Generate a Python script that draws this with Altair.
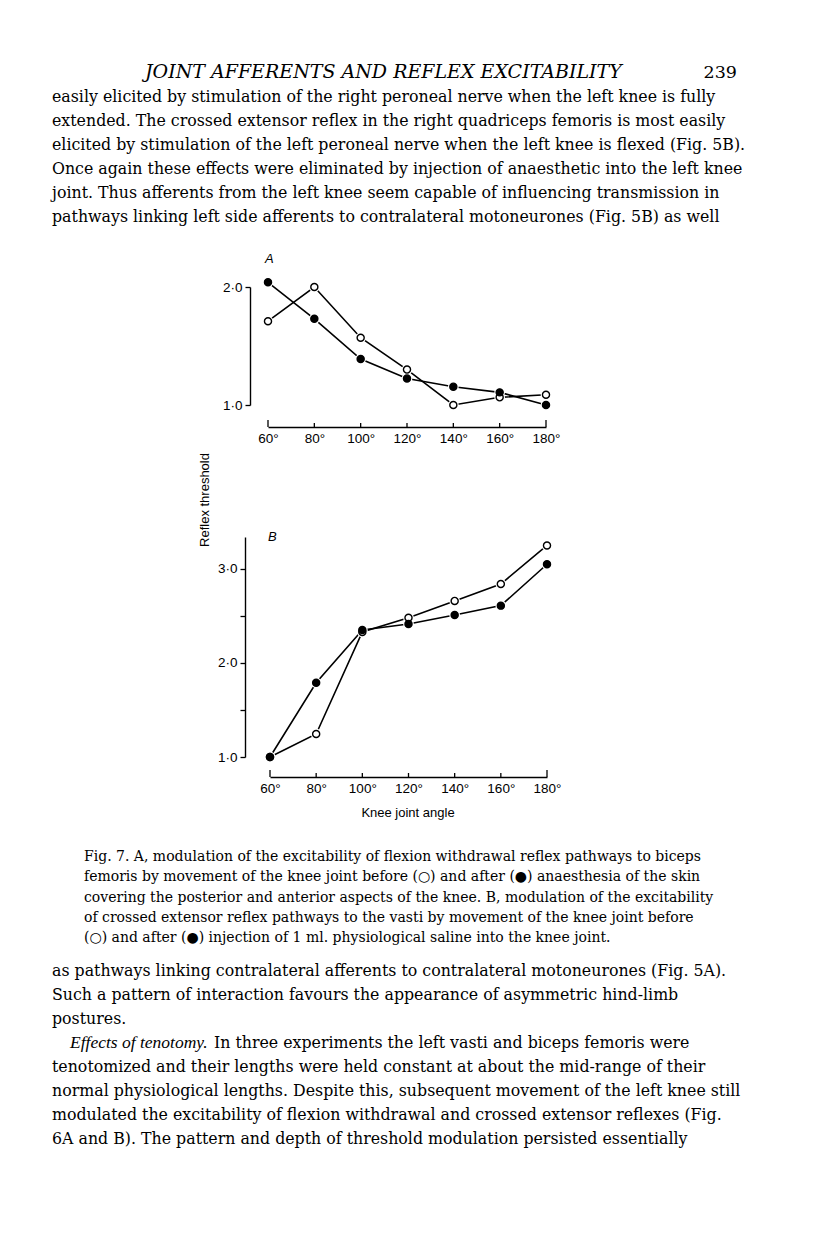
import altair as alt
import pandas as pd

# ---------------- data ----------------
angles = [60, 80, 100, 120, 140, 160, 180]
a_before = [1.71, 2.0, 1.57, 1.30, 1.0, 1.065, 1.087]
a_after = [2.04, 1.73, 1.39, 1.225, 1.155, 1.107, 1.0]
b_before = [1.0, 1.245, 2.33, 2.48, 2.66, 2.84, 3.25]
b_after = [1.0, 1.79, 2.35, 2.415, 2.51, 2.61, 3.05]
a_yticks = [1.0, 2.0]
b_yticks = [1.0, 1.5, 2.0, 2.5, 3.0]

header_title = "JOINT AFFERENTS AND REFLEX EXCITABILITY"
page_number = "239"
body_top = [
    "easily elicited by stimulation of the right peroneal nerve when the left knee is fully",
    "extended. The crossed extensor reflex in the right quadriceps femoris is most easily",
    "elicited by stimulation of the left peroneal nerve when the left knee is flexed (Fig. 5B).",
    "Once again these effects were eliminated by injection of anaesthetic into the left knee",
    "joint. Thus afferents from the left knee seem capable of influencing transmission in",
    "pathways linking left side afferents to contralateral motoneurones (Fig. 5B) as well",
]
caption = [
    "Fig. 7. A, modulation of the excitability of flexion withdrawal reflex pathways to biceps",
    "femoris by movement of the knee joint before (\u25cb) and after (\u25cf) anaesthesia of the skin",
    "covering the posterior and anterior aspects of the knee. B, modulation of the excitability",
    "of crossed extensor reflex pathways to the vasti by movement of the knee joint before",
    "(\u25cb) and after (\u25cf) injection of 1 ml. physiological saline into the knee joint.",
]
body_bottom_a = [
    "as pathways linking contralateral afferents to contralateral motoneurones (Fig. 5A).",
    "Such a pattern of interaction favours the appearance of asymmetric hind-limb",
    "postures.",
]
body_italic = "Effects of tenotomy."
body_line4_rest = "In three experiments the left vasti and biceps femoris were"
body_bottom_b = [
    "tenotomized and their lengths were held constant at about the mid-range of their",
    "normal physiological lengths. Despite this, subsequent movement of the left knee still",
    "modulated the excitability of flexion withdrawal and crossed extensor reflexes (Fig.",
    "6A and B). The pattern and depth of threshold modulation persisted essentially",
]

W, H = 800, 1227
SANS = "Liberation Sans"
SERIF = "DejaVu Serif"
BODY = 15.8
CAP = 14.0


def panel(before, after, yticks, xr, ydom, yr, xaxis_y, yaxis_x):
    df = pd.DataFrame({
        "angle": angles * 2,
        "value": before + after,
        "cond": ["before"] * len(angles) + ["after"] * len(angles),
    })
    x = alt.X(
        "angle:Q",
        scale=alt.Scale(domain=[60, 180], range=xr, nice=False, zero=False),
        axis=alt.Axis(
            orient="bottom", values=angles, labelExpr="datum.value + '\u00b0'",
            ticks=False, tickSize=0, grid=False, title=None,
            domainColor="black", domainWidth=1.4,
            labelFont=SANS, labelFontSize=13.5, labelColor="black", labelPadding=4,
            offset=-(H - xaxis_y), labelFlush=False, labelOverlap=False,
        ),
    )
    y = alt.Y(
        "value:Q",
        scale=alt.Scale(domain=ydom, range=yr, nice=False, zero=False),
        axis=alt.Axis(
            orient="left", values=yticks,
            labelExpr="datum.value % 1 == 0 ? replace(format(datum.value, '.1f'), '.', '\u00b7') : ''",
            grid=False, title=None, domainColor="black", domainWidth=1.4,
            tickColor="black", tickWidth=1.3, tickSize=5,
            labelFont=SANS, labelFontSize=13.5, labelColor="black", labelPadding=3,
            offset=-yaxis_x, labelFlush=False, labelOverlap=False,
        ),
    )
    base = alt.Chart(df)
    lines = base.mark_line(color="black", strokeWidth=1.6).encode(x=x, y=y, detail="cond:N")
    halo = base.mark_circle(color="white", size=115, opacity=1).encode(x=x, y=y)
    pts = base.mark_circle(size=50, stroke="black", strokeWidth=1.4, opacity=1).encode(
        x=x, y=y,
        fill=alt.Fill("cond:N", scale=alt.Scale(domain=["before", "after"], range=["white", "black"]), legend=None),
    )
    tdf = pd.DataFrame({"angle": angles, "end": [1, 0, 0, 0, 0, 0, 1]})
    ticks_end = alt.Chart(tdf).transform_filter("datum.end == 1").mark_rule(color="black", strokeWidth=1.3).encode(
        x=x, y=alt.value(xaxis_y), y2=alt.value(xaxis_y - 7))
    ticks_mid = alt.Chart(tdf).transform_filter("datum.end == 0").mark_rule(color="black", strokeWidth=1.3).encode(
        x=x, y=alt.value(xaxis_y), y2=alt.value(xaxis_y - 4))
    return alt.layer(lines, halo, pts, ticks_end, ticks_mid)


def text_block(lines, x, y, size, font=SERIF, style="normal", lh=24, align="left",
               baseline="alphabetic", angle=0, weight="normal"):
    props = dict(align=align, baseline=baseline, font=font, fontSize=size, fontStyle=style,
                 fontWeight=weight, lineBreak="\n", lineHeight=lh, color="black")
    if angle:
        props["angle"] = angle
    return alt.Chart(pd.DataFrame({"t": ["\n".join(lines)]})).mark_text(**props).encode(
        x=alt.value(x), y=alt.value(y), text="t:N")


panelA = panel(a_before, a_after, a_yticks, [260, 538], [1.0, 2.0], [397, 279], 419, 242)
panelB = panel(b_before, b_after, b_yticks, [262, 539], [1.0, 3.34], [749, 529], 769, 237)

texts = [
    text_block([header_title], 137, 70, 19, style="italic"),
    text_block([page_number], 729, 70, 17.5, align="right"),
    text_block(body_top, 44, 94, BODY),
    text_block(["A"], 257, 251, 13, font=SANS, style="italic", baseline="middle"),
    text_block(["B"], 260, 529, 13, font=SANS, style="italic", baseline="middle"),
    text_block(["Reflex threshold"], 197, 492, 13, font=SANS, baseline="middle", align="center", angle=270),
    text_block(["Knee joint angle"], 400, 805, 13, font=SANS, baseline="middle", align="center"),
    text_block(caption, 76, 853, CAP, lh=20.3),
    text_block(body_bottom_a, 44, 968, BODY),
    text_block([body_italic], 62, 968 + 3 * 24, 17.5, font="Liberation Serif", style="italic"),
    text_block([body_line4_rest], 206, 968 + 3 * 24, BODY),
    text_block(body_bottom_b, 44, 968 + 4 * 24, BODY),
]

chart = alt.layer(panelA, panelB, *texts).resolve_scale(
    x="independent", y="independent", fill="independent"
).resolve_axis(x="independent", y="independent").properties(
    width=W, height=H, autosize="none", padding=0, background="white"
).configure_view(stroke="transparent")

chart.save("out.html", embed_options={"renderer": "svg", "actions": False})
